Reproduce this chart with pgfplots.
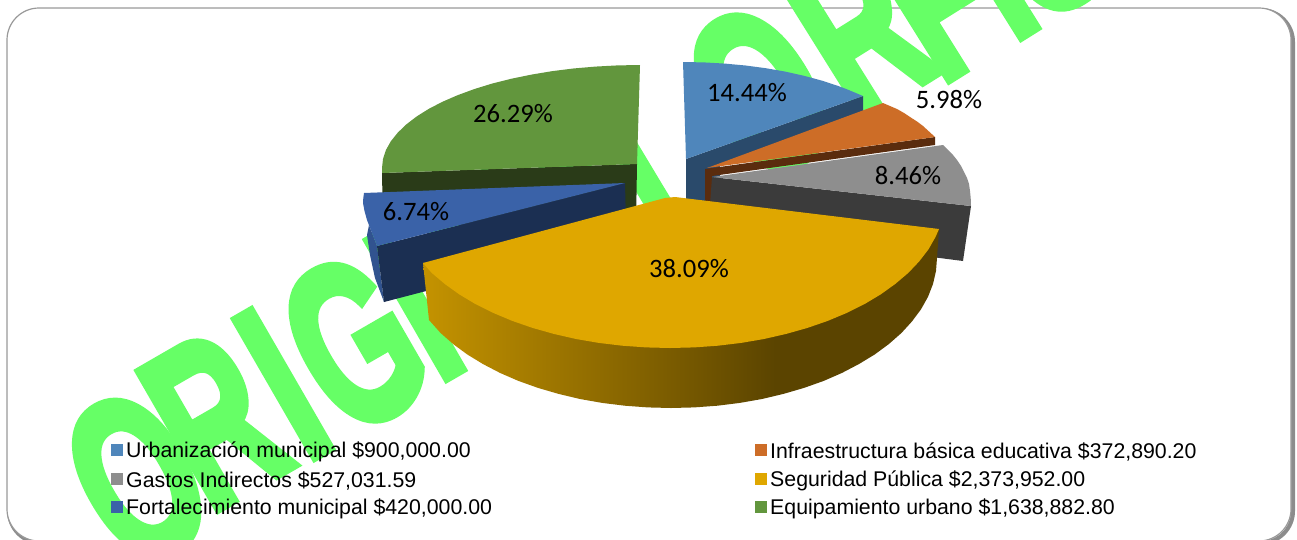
\documentclass[border=0pt]{standalone}
\usepackage{pgfplots}
\pgfplotsset{compat=1.18}
\usepackage{fontspec}
\setmainfont{Liberation Sans}
\newfontfamily\lab{Carlito}
\newfontfamily\wm[BoldFeatures={FakeBold=4}]{Liberation Sans}
\definecolor{wmg}{HTML}{66FF66}
\definecolor{cU}{HTML}{4F86BB}\definecolor{cUd}{HTML}{2A4A6B}
\definecolor{cI}{HTML}{CD6D27}\definecolor{cId}{HTML}{5A2C0E}
\definecolor{cG}{HTML}{8E8E8E}\definecolor{cGd}{HTML}{3B3B3B}
\definecolor{cS}{HTML}{DFA700}
\definecolor{cF}{HTML}{3A62A8}\definecolor{cFd}{HTML}{1B2F52}
\definecolor{cE}{HTML}{62963D}\definecolor{cEd}{HTML}{2A3B18}
\pgfdeclarehorizontalshading{yel}{100bp}{color(0bp)=(cS!88!black); color(25bp)=(cS!88!black); color(59bp)=(cS!41!black); color(75bp)=(cS!41!black); color(100bp)=(cS!41!black)}
\newcommand{\wmL}[4]{\node[rotate=#4,inner sep=0pt,xscale=#3,yscale=1,text=wmg] at (axis cs:#1) {\fontsize{230}{230}\wm\bfseries #2};}
\begin{document}
\begin{tikzpicture}
\useasboundingbox (0,0) rectangle (1297pt,539pt);
\begin{axis}[at={(0,0)},anchor=south west,scale only axis,width=1297pt,height=539pt,
  xmin=0,xmax=1297,ymin=0,ymax=539,y dir=reverse,hide axis,clip=false]
% frame
\draw[line width=4pt,color=black!45,rounded corners=32pt] (axis cs:9,10) rectangle (axis cs:1293,543);
\fill[white,draw=black!40,line width=1.2pt,rounded corners=32pt] (axis cs:7,8) rectangle (axis cs:1291,541);
% watermark
\wmL{137,478}{O}{0.62}{30}
\wmL{214,420}{R}{0.62}{30}
\wmL{283,384}{I}{0.62}{30}
\wmL{354,343}{G}{0.62}{30}
\wmL{415,305}{I}{0.62}{30}
\wmL{495,258}{N}{0.62}{30}
\wmL{585,205}{A}{0.62}{31}
\wmL{660,160}{L}{0.62}{31}
\wmL{760,92}{O}{0.62}{32}
\wmL{858,29}{R}{0.62}{32}
\wmL{935,-5}{F}{0.62}{32}
\wmL{987,-35}{I}{0.62}{32}
\wmL{1040,-69}{S}{0.62}{32}
% equipamiento
\addplot[fill=cEd,draw=none] coordinates {(382,173)(637,164)(636,225)(383,225)};
\addplot[fill=cE,draw=none] coordinates {(637,164)(382,173)(382,168)(383,159)(385.9,150.1)(390.8,141.3)(397.6,132.8)(406.2,124.5)(416.6,116.5)(428.7,108.9)(442.4,101.8)(457.6,95.2)(474.2,89.1)(492,83.6)(511,78.8)(531,74.7)(551.8,71.2)(573.2,68.5)(595.2,66.6)(617.5,65.4)(640,65)};
% fortalecimiento
\addplot[fill=cF!85!black,draw=none] coordinates {(377,246)(369,225)(367,235)(370,255)(375,278)(384,302)};
\addplot[fill=cFd,draw=none] coordinates {(377,246)(625,183)(626,225)(430,290)(384,302)};
\addplot[fill=cF,draw=none] coordinates {(625,183)(377,246)(372,233)(367,220)(364.5,211)(363,203)(363.3,198)(364,193)};
% urbanizacion
\addplot[fill=cUd,draw=none] coordinates {(686,159)(863,96)(863,111)(720,165)(720,205)(686,205)};
\addplot[fill=cU,draw=none] coordinates {(686,159)(683,62)(704.1,62.4)(725,63.6)(745.6,65.5)(765.8,68.2)(785.3,71.6)(804,75.8)(821.8,80.6)(838.6,86.1)(848,89.7)(863,96)};
% infraestructura
\addplot[fill=cId,draw=none] coordinates {(705,169)(935,137)(935,145)(712,176)(712,205)(705,205)};
\addplot[fill=cI,draw=none] coordinates {(707,168)(883,103)(890,106)(897,109)(904,113)(910,117)(917,121.5)(923,126)(929,131.5)(935,137)};
% gastos
\addplot[fill=cGd,draw=none] coordinates {(712,177)(971,206)(963,261)(800,240)(710,205)};
\addplot[fill=cG,draw=none] coordinates {(712,177)(943,145)(948,150)(953,155)(957,160)(961,166)(964,172)(967,178)(969,184)(970,191)(970.7,198)(971,206)};
% seguridad
\addplot[shading=yel,draw=none] coordinates {(423,263)(429,320)(440.6,333)(453.1,344)(467.2,354.4)(482.9,364)(500,372.9)(518.4,380.9)(538,387.9)(558.6,393.9)(580,399)(602.2,402.9)(624.8,405.7)(647.8,407.4)(671,408)(694.2,407.4)(717.3,405.7)(739.8,402.9)(762,399)(783.4,393.9)(804,387.9)(823.7,380.9)(842,372.9)(859,364)(874.8,354.4)(888.9,344)(901.4,333)(912,321.4)(921,309.3)(928,296.8)(933,284)(936,271)(937,258)(939,229)};
\addplot[fill=cS,draw=none] coordinates {(423,263)(665,198)(675,197)(939,229)(935.6,236.8)(928.5,249.3)(919.2,261.4)(908.2,273)(895.2,284)(880.7,294.4)(864.5,304.1)(846.8,312.9)(827.7,320.9)(807.5,327.9)(786.2,333.9)(764,339)(741.2,342.9)(717.8,345.7)(694,347.4)(670,348)(646,347.4)(622.2,345.7)(598.8,342.9)(576,339)(553.8,333.9)(532.5,327.9)(512.3,320.9)(493.2,312.9)(475.5,304.1)(459.3,294.4)(444.8,284)(431.8,273)};
% labels
\begin{scope}[every node/.style={font=\lab\fontsize{26.6}{28}\selectfont,inner sep=0pt}]
\node at (axis cs:747,93) {14.44\%};
\node at (axis cs:949,100) {5.98\%};
\node at (axis cs:908,176) {8.46\%};
\node at (axis cs:689,269) {38.09\%};
\node at (axis cs:416,212) {6.74\%};
\node at (axis cs:513,114) {26.29\%};
\end{scope}
% legend
\newcommand{\leg}[4]{\addplot[only marks,mark=square*,mark size=5.5pt,color=#1] coordinates {(#2,#3)} node[right,xshift=9.5pt,yshift=-1.5pt,text=black,font=\fontsize{21.3}{23}\selectfont,inner sep=0pt] {#4};}
\leg{cU}{116.5}{450}{Urbanización municipal \$900,000.00}
\leg{cG}{116.5}{479}{Gastos Indirectos \$527,031.59}
\leg{cF}{116.5}{507}{Fortalecimiento municipal \$420,000.00}
\leg{cI}{760.5}{450}{Infraestructura básica educativa \$372,890.20}
\leg{cS}{760.5}{479}{Seguridad Pública \$2,373,952.00}
\leg{cE}{760.5}{507}{Equipamiento urbano \$1,638,882.80}
\end{axis}
\end{tikzpicture}
\end{document}
